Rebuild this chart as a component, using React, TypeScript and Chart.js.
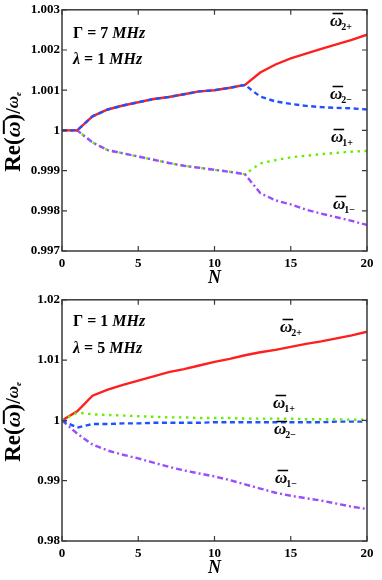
import React, { useEffect, useRef } from "react";
import { Chart, registerables } from "chart.js";

Chart.register(...registerables);

const SERIF = '"Liberation Serif", "Times New Roman", serif';

// N values
const N = [0, 1, 2, 3, 4, 5, 6, 7, 8, 9, 10, 11, 12, 13, 14, 15, 16, 17, 18, 19, 20];

// Top panel (Γ = 7 MHz, λ = 1 MHz)
const topW2p = [1, 1, 1.00035, 1.00052, 1.00062, 1.0007, 1.00078, 1.00083, 1.0009, 1.00097, 1.001, 1.00106, 1.00113, 1.00144, 1.00164, 1.00179, 1.00191, 1.00203, 1.00214, 1.00225, 1.00238];
const topW2m = [1, 1, 1.00035, 1.00052, 1.00062, 1.0007, 1.00078, 1.00083, 1.0009, 1.00097, 1.001, 1.00106, 1.00113, 1.00084, 1.00072, 1.00066, 1.00061, 1.00058, 1.00056, 1.00055, 1.00052];
const topW1p = [1, 1, 0.9997, 0.99951, 0.99943, 0.99935, 0.99927, 0.99919, 0.99912, 0.99907, 0.99902, 0.99897, 0.99891, 0.99918, 0.99926, 0.99933, 0.99937, 0.99941, 0.99944, 0.99947, 0.99949];
const topW1m = [1, 1, 0.9997, 0.99951, 0.99943, 0.99935, 0.99927, 0.99919, 0.99912, 0.99907, 0.99902, 0.99897, 0.99891, 0.99844, 0.99826, 0.99816, 0.99803, 0.99793, 0.99784, 0.99775, 0.99765];
const topYTicks = [0.997, 0.998, 0.999, 1, 1.001, 1.002, 1.003];

// Bottom panel (Γ = 1 MHz, λ = 5 MHz)
const botW2p = [1, 1.0015, 1.0041, 1.0051, 1.0059, 1.0066, 1.0073, 1.008, 1.0085, 1.0091, 1.0097, 1.0102, 1.0108, 1.0113, 1.0117, 1.0122, 1.0127, 1.0131, 1.0136, 1.0141, 1.0147];
const botW1p = [1, 1.0013, 1.001, 1.0009, 1.0008, 1.0007, 1.0006, 1.0005, 1.0005, 1.0004, 1.0004, 1.0004, 1.0003, 1.0003, 1.0003, 1.0003, 1.0002, 1.0002, 1.0002, 1.0001, 1.0001];
const botW2m = [1, 0.9988, 0.9994, 0.9994, 0.9995, 0.9995, 0.9996, 0.9996, 0.9996, 0.9996, 0.9997, 0.9997, 0.9997, 0.9997, 0.9997, 0.9997, 0.9997, 0.9997, 0.9998, 0.9998, 0.9998];
const botW1m = [1, 0.9978, 0.996, 0.995, 0.9943, 0.9937, 0.993, 0.9923, 0.9917, 0.9912, 0.9907, 0.9901, 0.9894, 0.9887, 0.988, 0.9875, 0.9871, 0.9867, 0.9862, 0.9857, 0.9853];
const botYTicks = [0.98, 0.99, 1, 1.01, 1.02];

const xTicks = [0, 5, 10, 15, 20];

const RED = "#ff1f1f";
const BLUE = "#1f52ff";
const GREEN = "#66ee00";
const PURPLE = "#9a4dff";

type Lbl = { sub: string; x: number; y: number };
type Panel = {
  w2p: number[];
  w2m: number[];
  w1p: number[];
  w1m: number[];
  yTicks: number[];
  gamma: string;
  lambda: string;
  annoY: [number, number];
  labels: Lbl[];
  greenOnTop: boolean;
};

const TOP: Panel = {
  w2p: topW2p, w2m: topW2m, w1p: topW1p, w1m: topW1m, yTicks: topYTicks,
  gamma: "7", lambda: "1", annoY: [38, 64], greenOnTop: false,
  labels: [
    { sub: "2+", x: 330, y: 26 },
    { sub: "2\u2212", x: 330, y: 99 },
    { sub: "1+", x: 331, y: 142 },
    { sub: "1\u2212", x: 333, y: 209 },
  ],
};
const BOTTOM: Panel = {
  w2p: botW2p, w2m: botW2m, w1p: botW1p, w1m: botW1m, yTicks: botYTicks,
  gamma: "1", lambda: "5", annoY: [36, 63], greenOnTop: true,
  labels: [
    { sub: "2+", x: 280, y: 42 },
    { sub: "1+", x: 273, y: 118 },
    { sub: "2\u2212", x: 274, y: 144 },
    { sub: "1\u2212", x: 275, y: 193 },
  ],
};

function pts(ys: number[]) {
  return N.map((n, i) => ({ x: n, y: ys[i] }));
}

function drawOmega(ctx: CanvasRenderingContext2D, x: number, y: number, size: number) {
  ctx.font = `italic bold ${size}px ${SERIF}`;
  ctx.fillText("\u03c9", x, y);
  const w = ctx.measureText("\u03c9").width;
  ctx.fillRect(x + size * 0.15, y - size * 0.78, w - size * 0.1, Math.max(1.2, size * 0.09));
  return w;
}

function seq(ctx: CanvasRenderingContext2D, x: number, y: number, parts: [string, string][]) {
  let cx = x;
  for (const [font, t] of parts) {
    ctx.font = font;
    ctx.fillText(t, cx, y);
    cx += ctx.measureText(t).width;
  }
  return cx;
}

const decoPlugin = {
  id: "deco",
  afterDraw(chart: any) {
    const p: Panel = chart.options.plugins.deco.panel;
    const ctx: CanvasRenderingContext2D = chart.ctx;
    const { left, right, top, bottom } = chart.chartArea;
    const xs = chart.scales.x;
    const ys = chart.scales.y;
    ctx.save();
    // frame
    ctx.strokeStyle = "#3a3a3a";
    ctx.lineWidth = 1.5;
    ctx.strokeRect(left, top, right - left, bottom - top);
    // inward ticks
    ctx.lineWidth = 1.2;
    const tl = 5;
    ctx.beginPath();
    for (const t of xs.ticks) {
      const px = xs.getPixelForValue(t.value);
      ctx.moveTo(px, bottom); ctx.lineTo(px, bottom - tl);
      ctx.moveTo(px, top); ctx.lineTo(px, top + tl);
    }
    for (const t of ys.ticks) {
      const py = ys.getPixelForValue(t.value);
      ctx.moveTo(left, py); ctx.lineTo(left + tl, py);
      ctx.moveTo(right, py); ctx.lineTo(right - tl, py);
    }
    ctx.stroke();

    ctx.fillStyle = "#000";
    ctx.textBaseline = "alphabetic";
    ctx.textAlign = "left";
    // annotations
    const b16 = `bold 16px ${SERIF}`;
    const bi16 = `italic bold 16px ${SERIF}`;
    seq(ctx, 73, p.annoY[0], [[b16, "\u0393"], [b16, " = "], [b16, p.gamma + " "], [bi16, "MHz"]]);
    seq(ctx, 73, p.annoY[1], [[bi16, "\u03bb"], [b16, " = "], [b16, p.lambda + " "], [bi16, "MHz"]]);

    // curve labels
    for (const l of p.labels) {
      const w = drawOmega(ctx, l.x, l.y, 17);
      ctx.font = `bold 10px ${SERIF}`;
      ctx.fillText(l.sub, l.x + w - 1, l.y + 4);
    }

    // x title
    ctx.font = `italic bold 18px ${SERIF}`;
    ctx.textAlign = "center";
    ctx.fillText("N", (left + right) / 2, 283);

    // y title
    ctx.textAlign = "left";
    ctx.translate(20, (top + bottom) / 2 + 1);
    ctx.rotate(-Math.PI / 2);
    const b22 = `bold 23px ${SERIF}`;
    ctx.font = b22;
    let total = ctx.measureText("Re(").width;
    ctx.font = `italic bold 22px ${SERIF}`;
    const ow = ctx.measureText("\u03c9").width;
    total += ow;
    ctx.font = b22;
    total += ctx.measureText(")").width;
    ctx.font = `bold 20px ${SERIF}`;
    total += ctx.measureText("/").width;
    ctx.font = `italic bold 17px ${SERIF}`;
    const ow2 = ctx.measureText("\u03c9").width;
    total += ow2 + 5;
    let cx = -total / 2;
    cx = seq(ctx, cx, 0, [[b22, "Re("]]);
    drawOmega(ctx, cx, 0, 22);
    cx += ow;
    cx = seq(ctx, cx, 0, [[b22, ")"], [`bold 20px ${SERIF}`, "/"]]);
    ctx.font = `italic bold 17px ${SERIF}`;
    ctx.fillText("\u03c9", cx, -2);
    cx += ow2;
    ctx.font = `italic bold 9px ${SERIF}`;
    ctx.fillText("e", cx, 1);
    ctx.restore();
  },
};

function ChartPanel({ panel }: { panel: Panel }) {
  const ref = useRef<HTMLCanvasElement | null>(null);
  useEffect(() => {
    if (!ref.current) return;
    const yMin = panel.yTicks[0];
    const yMax = panel.yTicks[panel.yTicks.length - 1];
    const common = { pointRadius: 0, borderWidth: 2.4, tension: 0, fill: false };
    const chart = new Chart(ref.current, {
      type: "line",
      data: {
        datasets: [
          { ...common, label: "w2-", data: pts(panel.w2m), borderColor: BLUE, borderDash: [5, 3.5], order: 0 },
          { ...common, label: "w2+", data: pts(panel.w2p), borderColor: RED, order: 1 },
          { ...common, label: "w1-", data: pts(panel.w1m), borderColor: PURPLE, borderDash: [6, 3, 2, 3], order: 2 },
          { ...common, label: "w1+", data: pts(panel.w1p), borderColor: GREEN, borderDash: [2.5, 4.5], order: panel.greenOnTop ? -1 : 3 },
        ],
      },
      options: {
        animation: false,
        responsive: false,
        devicePixelRatio: 1,
        layout: { padding: { top: 7, right: 15, left: 0, bottom: 0 } },
        plugins: {
          legend: { display: false },
          tooltip: { enabled: false },
          deco: { panel },
        } as any,
        scales: {
          x: {
            type: "linear",
            min: 0,
            max: 20,
            afterBuildTicks: (s: any) => { s.ticks = xTicks.map((v) => ({ value: v })); },
            afterFit: (s: any) => { s.height = 39; },
            grid: { display: false, drawTicks: false },
            border: { display: false },
            ticks: {
              padding: 5,
              color: "#000",
              font: { family: SERIF, weight: "bold", size: 13 },
              callback: (v: any) => String(v),
            },
          },
          y: {
            type: "linear",
            min: yMin,
            max: yMax,
            afterBuildTicks: (s: any) => { s.ticks = panel.yTicks.map((v) => ({ value: v })); },
            afterFit: (s: any) => { s.width = 62; },
            grid: { display: false, drawTicks: false },
            border: { display: false },
            ticks: {
              padding: 2,
              color: "#000",
              font: { family: SERIF, weight: "bold", size: 13 },
              callback: (v: any) => String(Math.round(Number(v) * 10000) / 10000),
            },
          },
        },
      },
      plugins: [decoPlugin],
    } as any);
    return () => chart.destroy();
  }, [panel]);
  return <canvas ref={ref} width={382} height={290} style={{ display: "block", width: 382, height: 290 }} />;
}

export default function App() {
  return (
    <div style={{ position: "absolute", left: 0, top: 0, width: 382, height: 580, background: "#fff" }}>
      <ChartPanel panel={TOP} />
      <ChartPanel panel={BOTTOM} />
    </div>
  );
}
